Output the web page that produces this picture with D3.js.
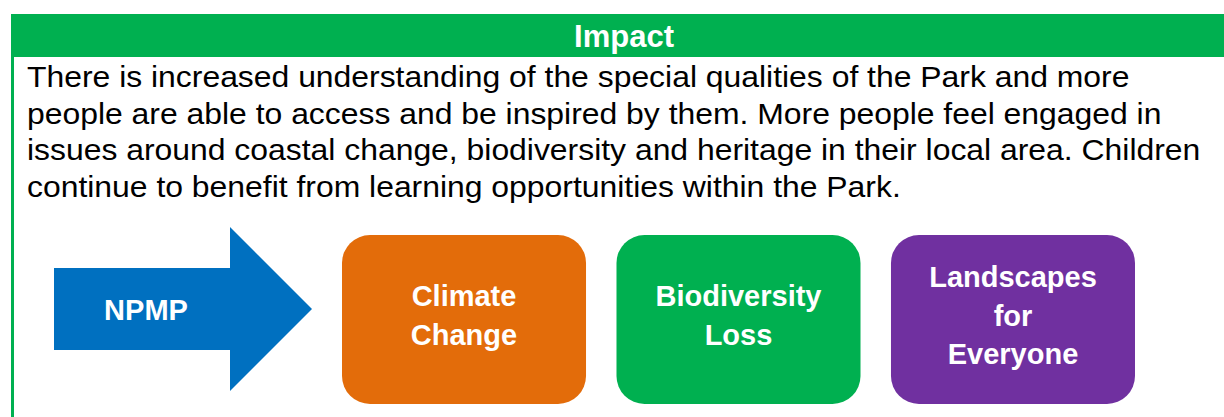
<!DOCTYPE html>
<html>
<head>
<meta charset="utf-8">
<script src="https://cdn.jsdelivr.net/npm/d3@7"></script>
<style>
  html, body { margin: 0; padding: 0; background: #fff; }
  svg { display: block; font-family: "Liberation Sans", Arial, sans-serif; }
</style>
</head>
<body>
<svg id="chart" width="1224" height="417"></svg>
<script>
// content
const headerTitle = "Impact";
const bodyLines = [
    "There is increased understanding of the special qualities of the Park and more",
    "people are able to access and be inspired by them. More people feel engaged in",
    "issues around coastal change, biodiversity and heritage in their local area. Children",
    "continue to benefit from learning opportunities within the Park."
];
const arrowLabel = "NPMP";
const boxNames = ["Climate Change", "Biodiversity Loss", "Landscapes for Everyone"];
const boxLines = [["Climate", "Change"], ["Biodiversity", "Loss"], ["Landscapes", "for", "Everyone"]];
const boxColors = ["#E36C0A", "#00B050", "#7030A0"];

const W = 1224, H = 417;
const svg = d3.select("#chart");
const green = "#00B050";

// frame: header bar + left border
svg.append("rect")
    .attr("x", 11).attr("y", 14)
    .attr("width", W - 11).attr("height", 43)
    .attr("fill", green);
svg.append("rect")
    .attr("x", 11).attr("y", 14)
    .attr("width", 3).attr("height", H - 14)
    .attr("fill", green);

svg.append("text")
    .attr("x", 624).attr("y", 47)
    .attr("text-anchor", "middle")
    .style("font-size", "31px")
    .style("font-weight", "bold")
    .style("fill", "#fff")
    .text(headerTitle);

// paragraph (source text is a bit wider than plain Arial, so stretch it)
const lineY = d3.scalePoint()
    .domain(d3.range(bodyLines.length))
    .range([87, 197]);

svg.append("g")
    .attr("transform", "translate(27,0) scale(1.1,1)")
    .selectAll("text")
    .data(bodyLines)
    .enter().append("text")
    .attr("x", 0)
    .attr("y", (d, i) => lineY(i))
    .style("font-size", "29px")
    .style("fill", "#000")
    .text(d => d);

// arrow
const arrow = d3.path();
arrow.moveTo(54, 268);
arrow.lineTo(230, 268);
arrow.lineTo(230, 227);
arrow.lineTo(312, 309);
arrow.lineTo(230, 391);
arrow.lineTo(230, 350);
arrow.lineTo(54, 350);
arrow.closePath();

svg.append("path")
    .attr("d", arrow.toString())
    .attr("fill", "#0070C0");

svg.append("text")
    .attr("x", 146).attr("y", 320)
    .attr("text-anchor", "middle")
    .style("font-size", "29px")
    .style("font-weight", "bold")
    .style("fill", "#fff")
    .text(arrowLabel);

// boxes
const x = d3.scaleBand()
    .domain(boxNames)
    .range([342, 1135])
    .paddingInner(0.111);

const color = d3.scaleOrdinal()
    .domain(boxNames)
    .range(boxColors);

const boxTop = 235, boxBottom = 404;
const lineGap = 38.5;

const box = svg.append("g").selectAll("g")
    .data(boxNames)
    .enter().append("g")
    .attr("transform", d => `translate(${x(d)},${boxTop})`);

box.append("rect")
    .attr("width", x.bandwidth())
    .attr("height", boxBottom - boxTop)
    .attr("rx", 28).attr("ry", 28)
    .attr("fill", d => color(d));

box.each(function(d, i) {
    const lines = boxLines[i];
    const cy = (boxBottom - boxTop) / 2 - 4;
    d3.select(this).selectAll("text")
        .data(lines)
        .enter().append("text")
        .attr("x", x.bandwidth() / 2)
        .attr("y", (t, j) => cy + (j - (lines.length - 1) / 2) * lineGap)
        .attr("dy", "0.35em")
        .attr("text-anchor", "middle")
        .style("font-size", "29px")
        .style("font-weight", "bold")
        .style("fill", "#fff")
        .text(t => t);
});
</script>
</body>
</html>
